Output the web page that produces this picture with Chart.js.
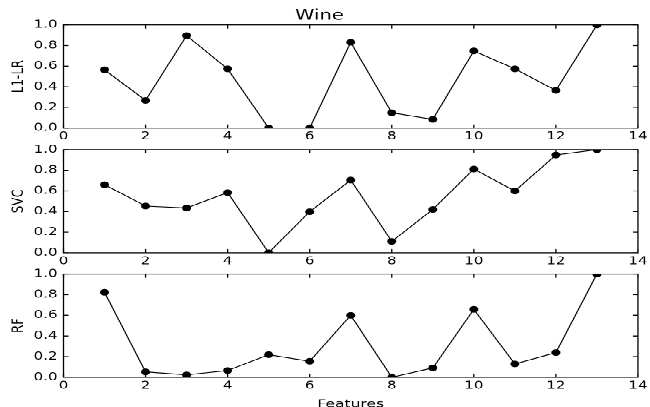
<!DOCTYPE html>
<html>
<head>
<meta charset="utf-8">
<script src="https://cdn.jsdelivr.net/npm/chart.js@4.4.0/dist/chart.umd.min.js"></script>
<style>
  body { margin: 0; background: #fff; overflow: hidden; }
  /* figure is drawn at 650x549 and squashed to 650x407 like the source image */
  #fig { position: absolute; left: 0; top: 0; width: 650px; height: 549px;
         transform: scale(1, 0.74135); transform-origin: 0 0; }
  #fig canvas { position: absolute; left: 0; top: 0; }
</style>
</head>
<body>
<div id="fig">
  <canvas id="c1" width="650" height="549"></canvas>
  <canvas id="c2" width="650" height="549"></canvas>
  <canvas id="c3" width="650" height="549"></canvas>
</div>
<script>
// podaci
const features = [1, 2, 3, 4, 5, 6, 7, 8, 9, 10, 11, 12, 13];
const l1lr = [0.565, 0.268, 0.897, 0.574, 0, 0, 0.832, 0.148, 0.084, 0.748, 0.574, 0.365, 1.0];
const svc = [0.66, 0.453, 0.434, 0.583, 0, 0.398, 0.705, 0.11, 0.42, 0.812, 0.599, 0.948, 1.0];
const rf = [0.823, 0.052, 0.023, 0.065, 0.219, 0.155, 0.6, 0, 0.09, 0.658, 0.129, 0.239, 1.0];
const xTicks = [0, 2, 4, 6, 8, 10, 12, 14];
const yTicks = [0, 0.2, 0.4, 0.6, 0.8, 1.0];
const yTickLabels = ["0.0", "0.2", "0.4", "0.6", "0.8", "1.0"];

const FONT = "DejaVu Sans";
const H = 549;
const TICK = 5;

// inward ticks on all four sides + box frame
const frameTicks = {
  id: "frameTicks",
  afterDatasetsDraw(chart) {
    const { ctx, chartArea: a, scales: { x, y } } = chart;
    ctx.save();
    ctx.strokeStyle = "#000";
    ctx.lineWidth = 1.3;
    ctx.beginPath();
    x.ticks.forEach(t => {
      const px = x.getPixelForValue(t.value);
      ctx.moveTo(px, a.bottom); ctx.lineTo(px, a.bottom - TICK);
      ctx.moveTo(px, a.top); ctx.lineTo(px, a.top + TICK);
    });
    y.ticks.forEach(t => {
      const py = y.getPixelForValue(t.value);
      ctx.moveTo(a.left, py); ctx.lineTo(a.left + TICK, py);
      ctx.moveTo(a.right, py); ctx.lineTo(a.right - TICK, py);
    });
    ctx.stroke();
    ctx.strokeRect(a.left, a.top, a.right - a.left, a.bottom - a.top);
    ctx.restore();
  }
};

function makeChart(id, values, ylabel, cfg) {
  const ctx = document.getElementById(id).getContext("2d");
  return new Chart(ctx, {
    type: "line",
    data: {
      datasets: [{
        data: features.map((f, i) => ({ x: f, y: values[i] })),
        borderColor: "#000",
        borderWidth: 1.2,
        backgroundColor: "#000",
        pointBackgroundColor: "#000",
        pointBorderColor: "#000",
        pointRadius: 4.5,
        pointBorderWidth: 0,
        tension: 0,
        clip: 0,
      }],
    },
    options: {
      responsive: false,
      devicePixelRatio: 2,
      animation: false,
      events: [],
      layout: { padding: cfg.padding },
      plugins: {
        legend: { display: false },
        tooltip: { enabled: false },
        title: cfg.title ? {
          display: true,
          text: cfg.title,
          color: "#000",
          font: { family: FONT, size: 19.5, weight: "normal" },
          padding: { top: 9.5, bottom: 0.8 },
        } : { display: false },
      },
      scales: {
        x: {
          type: "linear",
          min: 0, max: 14,
          afterBuildTicks: s => { s.ticks = xTicks.map(v => ({ value: v })); },
          afterFit: s => { s.height = cfg.xHeight; },
          grid: { display: false, drawTicks: false },
          border: { display: false },
          ticks: { color: "#000", padding: 2.5, maxRotation: 0,
                   font: { family: FONT, size: 15 } },
          title: cfg.xlabel ? {
            display: true, text: cfg.xlabel, color: "#000",
            font: { family: FONT, size: 15.5 }, padding: { top: 0, bottom: 0 },
          } : { display: false },
        },
        y: {
          type: "linear",
          min: 0, max: 1,
          afterBuildTicks: s => { s.ticks = yTicks.map(v => ({ value: v })); },
          afterFit: s => { s.width = 63.5; },
          grid: { display: false, drawTicks: false },
          border: { display: false },
          ticks: {
            color: "#000", padding: 6,
            font: { family: FONT, size: 15 },
            callback: v => yTickLabels[yTicks.findIndex(t => Math.abs(t - v) < 1e-6)],
          },
          title: {
            display: true, text: ylabel, color: "#000",
            font: { family: FONT, size: 16 }, padding: { top: 9, bottom: 0 },
          },
        },
      },
    },
    plugins: [frameTicks],
  });
}

makeChart("c1", l1lr, "L1-LR", {
  title: "Wine", xHeight: 20,
  padding: { left: 0, right: 11, top: 0, bottom: H - 172.7 - 20 },
});
makeChart("c2", svc, "SVC", {
  xHeight: 20,
  padding: { left: 0, right: 11, top: 201.9, bottom: H - 340.9 - 20 },
});
makeChart("c3", rf, "RF", {
  xlabel: "Features", xHeight: H - 508.9 + 6,
  padding: { left: 0, right: 11, top: 369.6, bottom: -6 },
});
</script>
</body>
</html>
